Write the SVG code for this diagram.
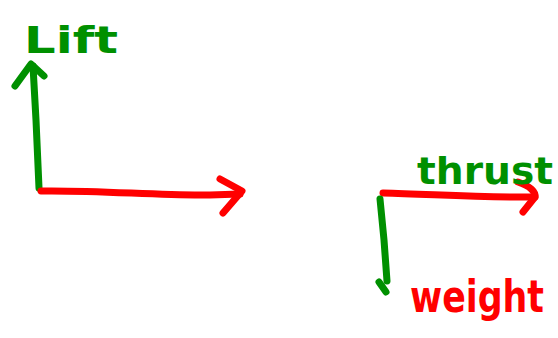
<svg xmlns="http://www.w3.org/2000/svg" width="558" height="338" viewBox="0 0 558 338">
<style>
.g{stroke:#009000;fill:none;stroke-width:7;stroke-linecap:round;stroke-linejoin:round}
.r{stroke:#ff0000;fill:none;stroke-width:7;stroke-linecap:round;stroke-linejoin:round}
.t{font-family:"DejaVu Sans",sans-serif;font-weight:bold}
</style>
<rect width="558" height="338" fill="#fff"/>
<g id="connectors">
<path class="g" d="M39,188 L36,120 L33,66"/>
<path class="g" d="M15,86 L31,64 L44,76"/>
<path class="r" d="M41,191 C100,190 160,196 210,195 L240,194"/>
<path class="r" d="M220,179 L242,191 L223,213"/>
<path class="r" d="M383,193 C430,194 480,198 535,197"/>
<path class="r" d="M518,182 C530,186 536,192 535,197 L523,212"/>
<path class="g" d="M380,199 L384,240 L387,281"/>
<path class="g" d="M379,282 L386,292"/>
</g>
<g id="lift"><text class="t" x="24" y="53" font-size="38" fill="#009000" textLength="94" lengthAdjust="spacingAndGlyphs">Lift</text></g>
<g id="thrust"><text class="t" x="417" y="184" font-size="38" fill="#009000" textLength="136" lengthAdjust="spacingAndGlyphs">thrust</text></g>
<g id="weight"><text class="t" x="410" y="312" font-size="44" fill="#ff0000" textLength="134" lengthAdjust="spacingAndGlyphs">weight</text></g>
</svg>
